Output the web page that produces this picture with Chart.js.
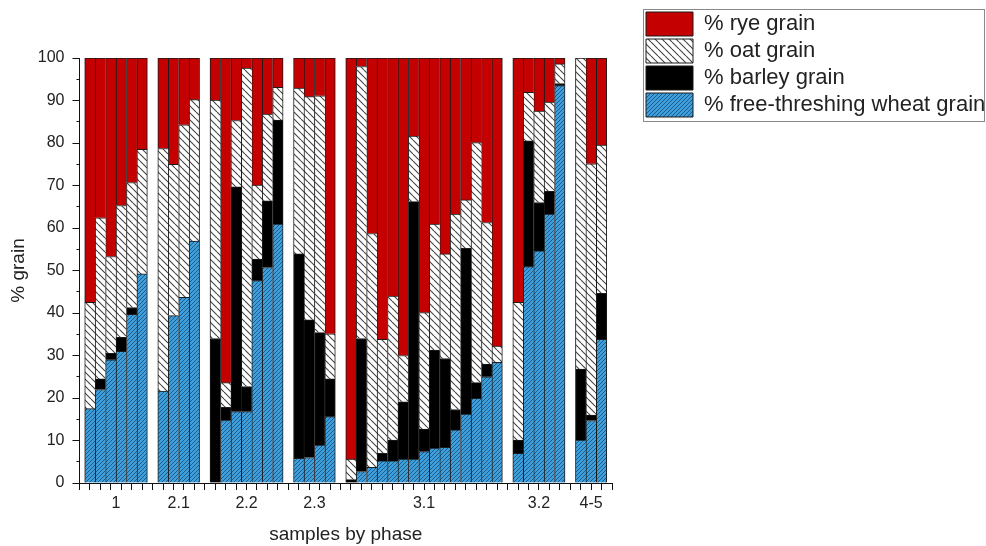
<!DOCTYPE html>
<html>
<head>
<meta charset="utf-8">
<script src="https://cdn.jsdelivr.net/npm/chart.js@4.4.1/dist/chart.umd.min.js"></script>
<style>
html,body{margin:0;padding:0;background:#ffffff;}
#wrap{width:986px;height:546px;position:relative;}
</style>
</head>
<body>
<div id="wrap"><canvas id="c" width="986" height="546"></canvas></div>
<script>
// ---- data ----
const phases = ['1', '2.1', '2.2', '2.3', '3.1', '3.2', '4-5'];
const samplesPerPhase = [6, 4, 7, 4, 15, 5, 3];

const wheat = [
  17.5, 22.0, 29.0, 31.0, 39.7, 49.2,
  21.6, 39.4, 43.7, 56.9,
  0, 14.8, 16.8, 16.8, 47.6, 50.7, 60.9,
  5.8, 6.0, 8.9, 15.6,
  0, 2.7, 3.7, 5.2, 5.2, 5.6, 5.6, 7.4, 8.2, 8.4, 12.5, 16.2, 19.9, 25.0, 28.4,
  7.0, 50.9, 54.6, 63.3, 93.5,
  10.1, 14.7, 33.8
];
const barley = [
  0, 2.5, 1.5, 3.3, 1.6, 0,
  0, 0, 0, 0,
  34.0, 3.0, 52.9, 5.9, 5.1, 15.7, 24.5,
  48.1, 32.4, 26.5, 8.9,
  0.8, 31.3, 0, 1.8, 4.9, 13.5, 60.6, 5.3, 23.1, 20.9, 4.8, 39.0, 3.7, 3.0, 0,
  3.1, 29.6, 11.4, 5.3, 0.5,
  16.7, 1.3, 10.8
];
const oat = [
  25.0, 37.9, 22.8, 31.0, 29.4, 29.3,
  57.1, 35.6, 40.6, 33.3,
  56.1, 5.8, 15.6, 74.9, 17.4, 20.4, 7.7,
  39.0, 52.5, 55.7, 10.6,
  4.8, 64.0, 55.0, 26.8, 33.9, 10.9, 15.4, 27.4, 29.6, 24.6, 46.0, 11.4, 56.5, 33.3, 3.8,
  32.4, 11.4, 21.5, 21.0, 4.6,
  73.2, 59.1, 34.9
];
const rye = [
  57.5, 37.6, 46.7, 34.7, 29.3, 21.5,
  21.3, 25.0, 15.7, 9.8,
  9.9, 76.4, 14.7, 2.4, 29.9, 13.2, 6.9,
  7.1, 9.1, 8.9, 64.9,
  94.4, 2.0, 41.3, 66.2, 56.0, 70.0, 18.4, 59.9, 39.1, 46.1, 36.7, 33.4, 19.9, 38.7, 67.8,
  57.5, 8.1, 12.5, 10.4, 1.4,
  0, 24.9, 20.5
];
const yMin = 0, yMax = 100, yMajorStep = 10, yMinorStep = 5;

// ---- build category slots (one empty slot at each edge and between phases) ----
const labels = [''];
const slotIndex = [null];
const phaseCenters = [];
let k = 0;
phases.forEach((p, g) => {
  const start = labels.length;
  for (let i = 0; i < samplesPerPhase[g]; i++) {
    labels.push(p + ' #' + (i + 1));
    slotIndex.push(k++);
  }
  phaseCenters.push({ value: start + (samplesPerPhase[g] - 1) / 2, label: p });
  labels.push('');
  slotIndex.push(null);
});
const slot = arr => slotIndex.map(i => (i === null ? null : arr[i]));

// ---- hatch patterns ----
function hatch(bg, fg, size, dir, lw) {
  const c = document.createElement('canvas');
  c.width = size; c.height = size;
  const g = c.getContext('2d');
  g.fillStyle = bg; g.fillRect(0, 0, size, size);
  g.strokeStyle = fg; g.lineWidth = lw;
  g.beginPath();
  for (let m = -1; m <= 1; m++) {
    if (dir === '/') { g.moveTo(m * size, size); g.lineTo(m * size + size, 0); }
    else { g.moveTo(m * size, 0); g.lineTo(m * size + size, size); }
  }
  g.stroke();
  return g.createPattern(c, 'repeat');
}
const wheatFill = hatch('#3d9fdc', '#1f5a88', 4, '/', 1);
const oatFill = hatch('#ffffff', '#444444', 7, '\\', 1.1);
const barleyFill = '#000000';
const ryeFill = '#c40000';

const F = "'Liberation Sans', Arial, sans-serif";
const TXT = '#222222';
const EDGE = '#1a1a1a';

const bw = ctx => ({
  top: 1, left: 1, bottom: 0,
  right: (ctx.dataIndex !== undefined && labels[ctx.dataIndex + 1] === '') ? 1 : 0
});

function ds(label, data, fill) {
  return {
    label, data: slot(data), backgroundColor: fill, borderColor: EDGE,
    borderWidth: bw, borderSkipped: false,
    barPercentage: 1, categoryPercentage: 1
  };
}

const legendFrame = {
  id: 'legendFrame',
  afterDraw(chart) {
    const L = chart.legend;
    if (!L) return;
    const ctx = chart.ctx;
    const hb = L.legendHitBoxes || [];
    let bottom = L.top + 3 + 4 * 27;
    if (hb.length) {
      bottom = Math.max(...hb.map(h => h.top + h.height)) + 4;
    }
    ctx.save();
    ctx.strokeStyle = '#8a8a8a';
    ctx.lineWidth = 1;
    const x0 = Math.round(L.left) + 0.5;
    const y0 = Math.round(L.top) + 0.5;
    const x1 = chart.width - 1.5;
    const y1 = Math.round(bottom) + 0.5;
    ctx.strokeRect(x0, y0, x1 - x0, y1 - y0);
    ctx.restore();
  }
};

new Chart(document.getElementById('c'), {
  type: 'bar',
  data: {
    labels,
    datasets: [
      ds('% free-threshing wheat grain', wheat, wheatFill),
      ds('% barley grain', barley, barleyFill),
      ds('% oat grain', oat, oatFill),
      ds('% rye grain', rye, ryeFill)
    ]
  },
  options: {
    responsive: false,
    animation: false,
    devicePixelRatio: 1,
    layout: { padding: { top: 9, left: 0, right: 0, bottom: 0 } },
    plugins: {
      tooltip: { enabled: false },
      legend: {
        position: 'right',
        align: 'start',
        reverse: true,
        maxWidth: 343,
        labels: {
          boxWidth: 47,
          boxHeight: 24,
          padding: 3,
          color: TXT,
          font: { family: F, size: 22 },
          generateLabels: chart =>
            Chart.defaults.plugins.legend.labels.generateLabels(chart)
              .map(l => Object.assign(l, { lineWidth: 1, strokeStyle: EDGE }))
        }
      }
    },
    scales: {
      x: {
        type: 'category',
        stacked: true,
        offset: false,
        position: 'bottom',
        weight: 0,
        grid: { display: true, drawOnChartArea: false, drawTicks: true, tickLength: 7, color: '#111', offset: false },
        border: { display: true, color: '#111', width: 1 },
        ticks: { display: false, autoSkip: false }
      },
      xLab: {
        type: 'linear',
        axis: 'x',
        position: 'bottom',
        weight: 1,
        offset: false,
        bounds: 'data',
        min: 0,
        max: labels.length - 1,
        grid: { display: false, drawTicks: false, offset: false },
        border: { display: false },
        afterBuildTicks: s => { s.ticks = phaseCenters.map(c => ({ value: c.value })); },
        ticks: {
          autoSkip: false, maxRotation: 0, minRotation: 0, padding: 4, color: TXT,
          font: { family: F, size: 16 },
          callback: v => {
            const c = phaseCenters.find(pc => Math.abs(pc.value - v) < 1e-6);
            return c ? c.label : '';
          }
        },
        title: { display: true, text: 'samples by phase', color: TXT, font: { family: F, size: 19 }, padding: { top: 6, bottom: 0 } }
      },
      xTop: {
        type: 'linear',
        axis: 'x',
        position: 'top',
        display: true,
        offset: false,
        grid: { display: false, drawTicks: false, offset: false },
        border: { display: false },
        ticks: { display: false },
        afterFit: s => { s.height = 49; }
      },
      y: {
        type: 'linear',
        stacked: true,
        min: yMin,
        max: yMax,
        position: 'left',
        ticks: {
          stepSize: yMinorStep, padding: 8, color: TXT, autoSkip: false,
          font: { family: F, size: 16 },
          callback: v => (v % yMajorStep === 0 ? v : '')
        },
        grid: {
          drawOnChartArea: false, tickLength: 7, color: '#111',
          tickBorderDash: c => (c.tick && c.tick.value % yMajorStep ? [3, 4] : []),
          tickBorderDashOffset: c => (c.tick && c.tick.value % yMajorStep ? 3 : 0)
        },
        border: { display: true, color: '#111', width: 1 },
        title: { display: true, text: '% grain', color: TXT, font: { family: F, size: 19 }, padding: { top: 7, bottom: 0 } }
      },
      yR: {
        type: 'linear',
        axis: 'y',
        position: 'right',
        display: true,
        grid: { display: false, drawTicks: false },
        border: { display: false },
        ticks: { display: false },
        afterFit: s => { s.width = 31; }
      }
    }
  },
  plugins: [legendFrame]
});
</script>
</body>
</html>
